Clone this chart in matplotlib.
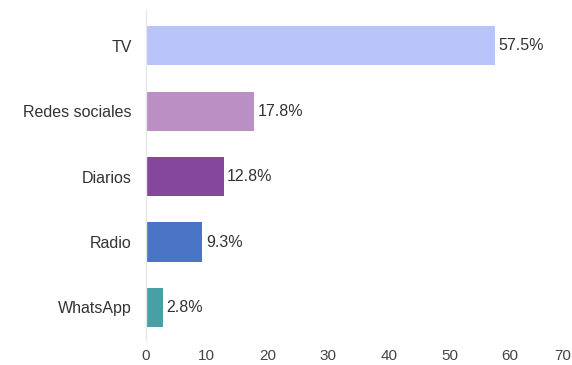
import matplotlib
matplotlib.use("Agg")
import matplotlib.pyplot as plt

categories = ["TV", "Redes sociales", "Diarios", "Radio", "WhatsApp"]
values = [57.5, 17.8, 12.8, 9.3, 2.8]
colors = ["#b9c5fa", "#b98fc4", "#85479c", "#4a74c6", "#4a9ea6"]
xticks = [0, 10, 20, 30, 40, 50, 60, 70]

plt.rcParams["font.family"] = ["Liberation Sans", "DejaVu Sans"]

fig = plt.figure(figsize=(5.72, 3.65), dpi=100)
ax = fig.add_axes([0.255, 0.068, 0.743, 0.905])

ypos = list(range(len(categories)))[::-1]
ax.barh(ypos, values, height=0.6, color=colors, zorder=2)

for y, v in zip(ypos, values):
    ax.text(v + 0.6, y, f"{v:.1f}%", va="center", ha="left",
            fontsize=11.5, color="#333333")

ax.set_xlim(0, 70)
ax.set_ylim(-0.5, 4.55)
ax.set_yticks(ypos)
ax.set_yticklabels(categories)
ax.set_xticks(xticks)
ax.set_xticklabels([str(t) for t in xticks])
# keep the last tick label inside the figure
ax.get_xticklabels()[-1].set_horizontalalignment("right")

ax.tick_params(axis="y", length=0, pad=10, labelsize=11.5, labelcolor="#333333")
ax.tick_params(axis="x", length=0, pad=6, labelsize=11, labelcolor="#444444")

for side in ["top", "right", "bottom"]:
    ax.spines[side].set_visible(False)
ax.spines["left"].set_color("#e6e6e6")
ax.spines["left"].set_linewidth(1.0)

fig.savefig("out.png", dpi=100)
